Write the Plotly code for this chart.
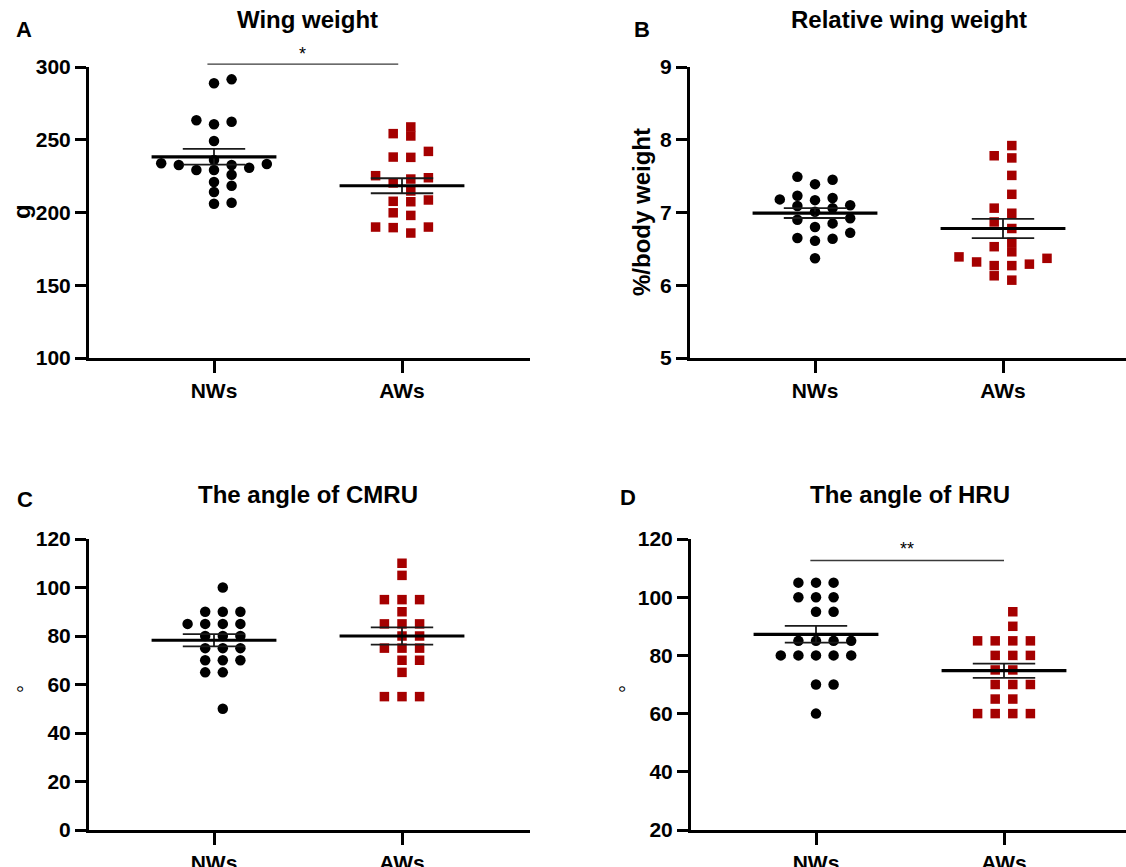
import numpy as np
import plotly.graph_objects as go

# ---------------- data ----------------
categories = ["NWs", "AWs"]

wing_weight_nws = [288.8, 291.5, 263.4, 262.4, 260.6, 249.1, 236.1, 230.8, 233.3, 229.2,
                   229.2, 232.6, 232.6, 233.8, 226.0, 221.0, 218.4, 214.1, 206.0, 206.7]
wing_weight_aws = [254.2, 252.6, 258.8, 238.1, 237.9, 242.0, 225.3, 223.9, 223.0, 220.3,
                   214.8, 207.4, 207.7, 208.6, 198.0, 199.8, 185.9, 190.0, 189.6, 190.0]

rel_wing_nws = [7.49, 7.39, 7.45, 7.20, 7.18, 7.23, 7.17, 7.10, 7.06, 7.09,
                7.01, 6.90, 6.92, 6.85, 6.80, 6.72, 6.65, 6.64, 6.61, 6.37]
rel_wing_aws = [7.92, 7.78, 7.75, 7.51, 7.25, 6.99, 7.06, 6.87, 6.78, 6.59,
                6.53, 6.46, 6.39, 6.32, 6.29, 6.27, 6.27, 6.37, 6.13, 6.07]

cmru_nws = [100, 90, 90, 90, 85, 85, 85, 85, 80, 80,
            80, 75, 75, 75, 70, 70, 70, 65, 65, 50]
cmru_aws = [110, 105, 95, 95, 95, 90, 85, 85, 85, 80,
            80, 75, 75, 75, 70, 70, 65, 55, 55, 55]

hru_nws = [105, 105, 105, 100, 100, 100, 95, 95, 85, 85,
           85, 85, 80, 80, 80, 80, 80, 70, 70, 60]
hru_aws = [95, 90, 85, 85, 85, 85, 80, 80, 80, 75,
           75, 70, 70, 70, 65, 65, 60, 60, 60, 60]

panel_titles = ["Wing weight", "Relative wing weight", "The angle of CMRU", "The angle of HRU"]
panel_letters = ["A", "B", "C", "D"]
y_titles = ["g", "%/body weight", "°", "°"]
y_ranges = [[100, 300], [5, 9], [0, 120], [20, 120]]
y_ticks = [[100, 150, 200, 250, 300], [5, 6, 7, 8, 9],
           [0, 20, 40, 60, 80, 100, 120], [20, 40, 60, 80, 100, 120]]
significance = ["*", None, None, "**"]

series = [(wing_weight_nws, wing_weight_aws), (rel_wing_nws, rel_wing_aws),
          (cmru_nws, cmru_aws), (hru_nws, hru_aws)]

# ---------------- layout geometry (pixels) ----------------
W, H = 1126, 867
FONT = "Liberation Sans, Arial, sans-serif"
BLACK = "#000000"
RED = "#a50000"

# left, right, top, bottom of each plotting area in pixels
boxes = [(89, 530, 67, 358), (690, 1126, 67, 358),
         (89, 530, 539, 830), (691, 1126, 539, 830)]
PX_PER_CAT = 188.0      # pixels between the two categories
FIRST_CAT_OFFSET = 125.0  # pixels from y axis to first category
title_y = [20, 20, 494, 494]
letter_pos = [(24, 29), (642, 29), (25, 499), (628, 497)]
ytitle_pos = [(21, 212), (641, 212), (25, 689), (627, 689)]
sig_bar = {0: dict(x0=-0.035, x1=0.98, y=302.0, ty=54),
           3: dict(x0=-0.03, x1=1.0, y=112.6, ty=549)}

COL_STEP = 17.6 / PX_PER_CAT  # horizontal spacing of swarm columns (axis units)
MEAN_HALF = 0.332
CAP_HALF = 0.166


def px2fx(x):
    return x / W


def px2fy(y):
    return 1 - y / H


def swarm(values, ppu, thr=9.0):
    vals = np.asarray(values, dtype=float)
    win = thr / ppu
    maxc = max(int(np.sum((vals >= v - 1e-9) & (vals < v + win - 1e-9))) for v in vals)
    if maxc % 2 == 0:
        cand = [0.5, -0.5, 1.5, -1.5, 2.5, -2.5, 3.5, -3.5, 4.5, -4.5]
    else:
        cand = [0, 1, -1, 2, -2, 3, -3, 4, -4, 5, -5]
    placed = {c: [] for c in cand}
    cols = np.zeros(len(vals))
    for i in np.argsort(vals, kind="stable"):
        y = vals[i] * ppu
        for c in cand:
            if all(abs(y - yy) >= thr for yy in placed[c]):
                placed[c].append(y)
                cols[i] = c
                break
    return cols


fig = go.Figure()
layout = dict(width=W, height=H, autosize=False,
              margin=dict(l=0, r=0, t=0, b=0, pad=0, autoexpand=False),
              paper_bgcolor="white", plot_bgcolor="white", showlegend=False,
              font=dict(family=FONT, color=BLACK))
annotations = []
shapes = []

for k in range(4):
    x0p, x1p, t, b = boxes[k]
    xa = "x" if k == 0 else f"x{k+1}"
    ya = "y" if k == 0 else f"y{k+1}"
    xkey = "xaxis" if k == 0 else f"xaxis{k+1}"
    ykey = "yaxis" if k == 0 else f"yaxis{k+1}"
    width_px = x1p - x0p
    xr = [-FIRST_CAT_OFFSET / PX_PER_CAT, (width_px - FIRST_CAT_OFFSET) / PX_PER_CAT]
    yr = y_ranges[k]
    ppu = (b - t) / (yr[1] - yr[0])

    layout[xkey] = dict(domain=[px2fx(x0p), px2fx(x1p)], range=xr, anchor=ya,
                        automargin=False,
                        showline=True, linewidth=3, linecolor=BLACK, showgrid=False,
                        zeroline=False, ticks="outside", ticklen=12, tickwidth=3,
                        tickcolor=BLACK, tickvals=[0, 1], ticktext=categories,
                        tickfont=dict(family=FONT, size=21, color=BLACK, weight="bold"))
    layout[ykey] = dict(domain=[px2fy(b), px2fy(t)], range=yr, anchor=xa,
                        automargin=False,
                        showline=True, linewidth=3, linecolor=BLACK, showgrid=False,
                        zeroline=False, ticks="outside", ticklen=11, tickwidth=3,
                        tickcolor=BLACK, tickvals=y_ticks[k],
                        ticktext=[str(v) for v in y_ticks[k]],
                        tickfont=dict(family=FONT, size=21, color=BLACK, weight="bold"))

    for g, vals in enumerate(series[k]):
        vals = np.asarray(vals, dtype=float)
        cols = swarm(vals, ppu)
        xs = g + cols * COL_STEP
        fig.add_trace(go.Scatter(
            x=xs, y=vals, mode="markers", xaxis=xa, yaxis=ya,
            marker=dict(symbol="circle" if g == 0 else "square",
                        size=10.5 if g == 0 else 9.5,
                        color=BLACK if g == 0 else RED, line=dict(width=0)),
            hoverinfo="y"))
    for g, vals in enumerate(series[k]):
        vals = np.asarray(vals, dtype=float)
        m = vals.mean()
        sem = vals.std(ddof=1) / np.sqrt(len(vals))
        fig.add_trace(go.Scatter(
            x=[g - CAP_HALF, g + CAP_HALF, None, g, g, None, g - CAP_HALF, g + CAP_HALF],
            y=[m + sem, m + sem, None, m + sem, m - sem, None, m - sem, m - sem],
            mode="lines", xaxis=xa, yaxis=ya,
            line=dict(color="#1a1a1a", width=1.8), hoverinfo="skip"))
        fig.add_trace(go.Scatter(
            x=[g - MEAN_HALF, g + MEAN_HALF], y=[m, m], mode="lines",
            xaxis=xa, yaxis=ya, line=dict(color=BLACK, width=3.2), hoverinfo="skip"))

    # titles & labels
    cx = x0p + FIRST_CAT_OFFSET + PX_PER_CAT / 2
    annotations.append(dict(text=panel_titles[k], x=px2fx(cx), y=px2fy(title_y[k]),
                            xref="paper", yref="paper", showarrow=False,
                            xanchor="center", yanchor="middle",
                            font=dict(family=FONT, size=24, color=BLACK, weight="bold")))
    lx, ly = letter_pos[k]
    annotations.append(dict(text=panel_letters[k], x=px2fx(lx), y=px2fy(ly),
                            xref="paper", yref="paper", showarrow=False,
                            xanchor="center", yanchor="middle",
                            font=dict(family=FONT, size=22, color=BLACK, weight="bold")))
    tx, ty = ytitle_pos[k]
    annotations.append(dict(text=y_titles[k], x=px2fx(tx), y=px2fy(ty),
                            xref="paper", yref="paper", showarrow=False,
                            xanchor="center", yanchor="middle", textangle=-90,
                            font=dict(family=FONT, size=24 if k < 2 else 20,
                                      color=BLACK, weight="bold" if k < 2 else "normal")))

    if significance[k]:
        sb = sig_bar[k]
        fy0 = (sb["y"] - yr[0]) / (yr[1] - yr[0])
        fx0 = (sb["x0"] - xr[0]) / (xr[1] - xr[0])
        fx1 = (sb["x1"] - xr[0]) / (xr[1] - xr[0])
        shapes.append(dict(type="line", xref=f"{xa} domain", yref=f"{ya} domain",
                           x0=fx0, x1=fx1, y0=fy0, y1=fy0,
                           line=dict(color="#3a3a3a", width=1.4)))
        annotations.append(dict(text=significance[k], x=px2fx((x0p + FIRST_CAT_OFFSET + PX_PER_CAT * (sb["x0"] + sb["x1"]) / 2)),
                                y=px2fy(sb["ty"]), xref="paper", yref="paper",
                                showarrow=False, xanchor="center", yanchor="middle",
                                font=dict(family=FONT, size=18, color=BLACK)))

layout["annotations"] = annotations
layout["shapes"] = shapes
fig.update_layout(**layout)
fig.write_html(
    "out.html",
    config={"displayModeBar": False},
    post_script=(
        "document.documentElement.style.margin='0';"
        "document.documentElement.style.overflow='hidden';"
        "document.body.style.margin='0';document.body.style.overflow='hidden';"
        "var d=document.getElementsByClassName('plotly-graph-div')[0];"
        "d.style.position='fixed';d.style.left='0px';d.style.top='0px';"
    ),
)
